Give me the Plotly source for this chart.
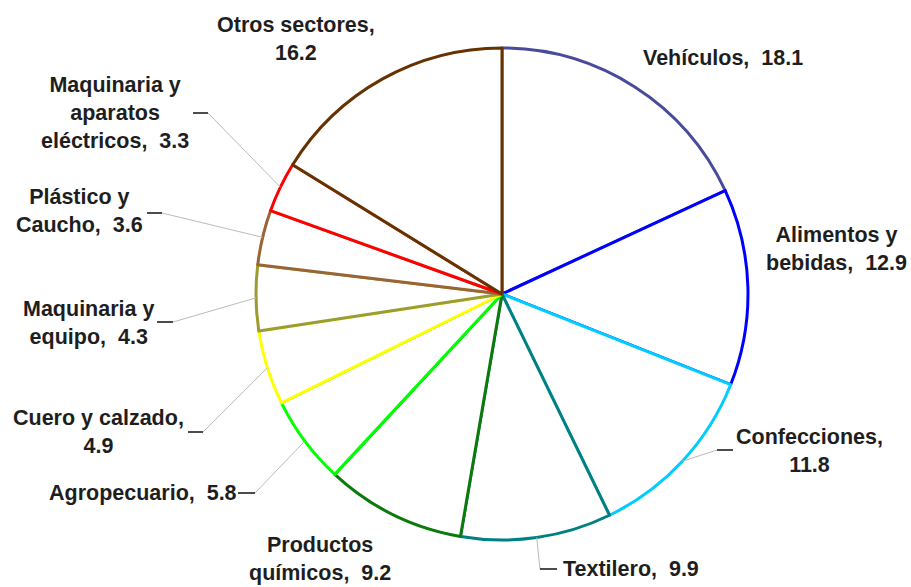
import math
import plotly.graph_objects as go

# ---- data ----
categories = ["Vehículos", "Alimentos y bebidas", "Confecciones", "Textilero",
              "Productos químicos", "Agropecuario", "Cuero y calzado",
              "Maquinaria y equipo", "Plástico y Caucho",
              "Maquinaria y aparatos eléctricos", "Otros sectores"]
values = [18.1, 12.9, 11.8, 9.9, 9.2, 5.8, 4.9, 4.3, 3.6, 3.3, 16.2]

# ---- style / layout ----
line_colors = ["#4A4A9C", "#0000FF", "#00CCFF", "#008080", "#0A7A0A", "#00FF00",
               "#FFFF00", "#9C9C30", "#996633", "#FF0000", "#663300"]

W, H = 911, 587
CX, CY, R = 502, 294, 246  # pie centre / radius in px

# label layout: (centre x px, centre y px, break after word indices, value on new line)
label_layout = [
    (723, 58, (), False),
    (836, 249.5, (1,), False),
    (809.5, 451, (), True),
    (631, 569, (), False),
    (320, 559, (0,), False),
    (143, 493, (), False),
    (98, 431.5, (), True),
    (88, 322.5, (1,), False),
    (79, 211, (1,), False),
    (115, 113.5, (1, 2), False),
    (296, 38.5, (), True),
]
# leader: (elbow x, elbow y, dash end x) or None
leaders = [None, None, (717, 450, 733), (540, 569, 557), None, (255, 493, 238),
           (203, 432, 188), (173, 322, 157), (162, 213, 147), (208, 113, 193), None]


def px(x):
    return x / W


def py(y):
    return 1 - y / H


fig = go.Figure(go.Pie(
    labels=categories, values=values, sort=False, direction="clockwise",
    rotation=0, textinfo="none", hoverinfo="label+value",
    marker=dict(colors=["white"] * len(values),
                line=dict(color=line_colors, width=3)),
    domain=dict(x=[px(CX - R), px(CX + R)], y=[py(CY + R), py(CY - R)]),
    showlegend=False,
))

total = sum(values)
cum = 0.0
annotations = []
shapes = []
for i, (name, v) in enumerate(zip(categories, values)):
    mid = (cum + v / 2) / total
    cum += v
    cx, cy, breaks, vnew = label_layout[i]
    words = name.split(" ")
    txt = ""
    for j, w in enumerate(words):
        txt += w
        if j < len(words) - 1:
            txt += "<br>" if j in breaks else " "
    txt += ",<br>" if vnew else ",\u00a0 "
    txt += f"{v:.1f}"
    annotations.append(dict(
        x=px(cx), y=py(cy), xref="paper", yref="paper", text=txt,
        showarrow=False, xanchor="center", yanchor="middle", align="center",
        font=dict(family="Liberation Sans, Arial, sans-serif", size=21.5,
                  color="#1E1E1E", weight="bold"),
    ))
    ld = leaders[i]
    if ld:
        th = 2 * math.pi * mid
        ax = CX + R * math.sin(th)
        ay = CY - R * math.cos(th)
        ex, ey, dx = ld
        shapes.append(dict(type="line", xref="paper", yref="paper",
                           x0=px(ax), y0=py(ay), x1=px(ex), y1=py(ey),
                           line=dict(color="#BBBBBB", width=1)))
        shapes.append(dict(type="line", xref="paper", yref="paper",
                           x0=px(ex), y0=py(ey), x1=px(dx), y1=py(ey),
                           line=dict(color="#111111", width=1.5)))

fig.update_layout(
    width=W, height=H, margin=dict(l=0, r=0, t=0, b=0),
    paper_bgcolor="white", plot_bgcolor="white",
    annotations=annotations, shapes=shapes,
)

fig.write_html("out.html", config={"displayModeBar": False},
               post_script="document.body.style.margin='0';document.body.style.overflow='hidden';")
